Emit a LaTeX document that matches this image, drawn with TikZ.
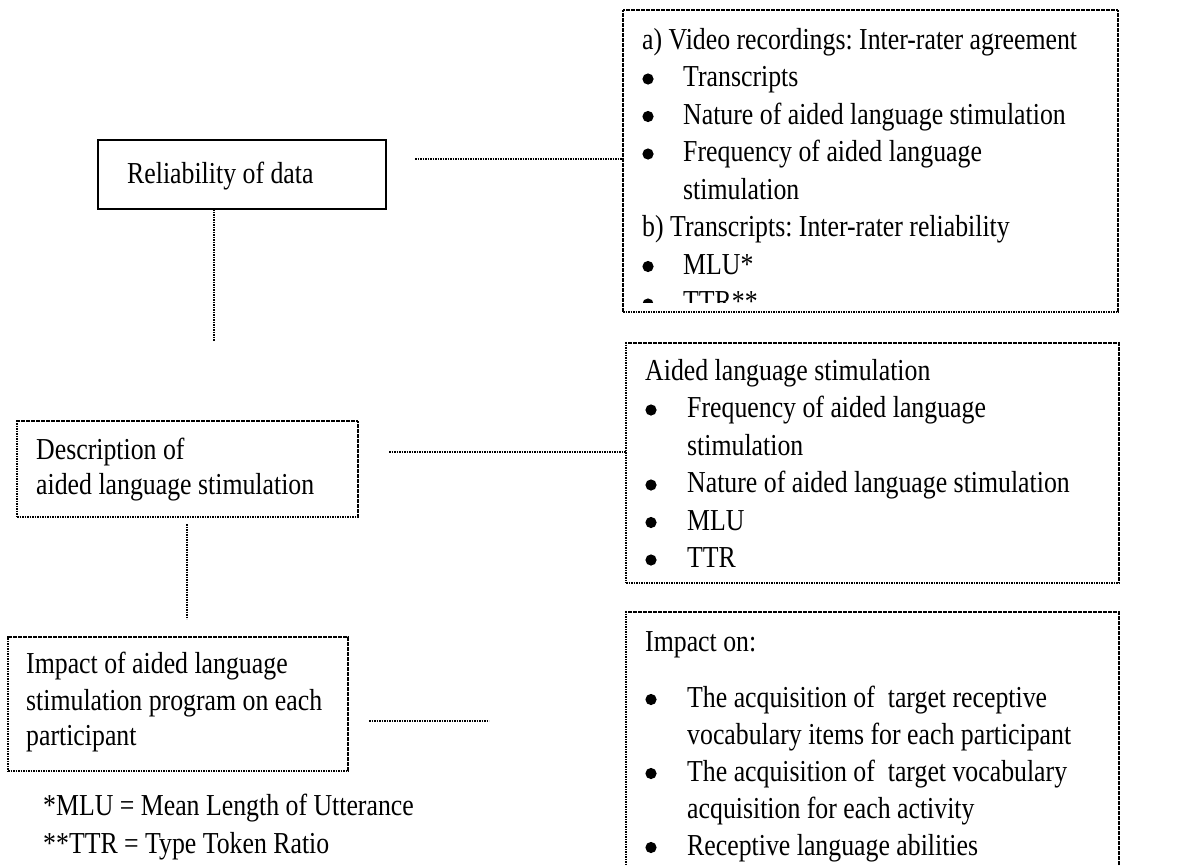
\documentclass[tikz,border=0pt]{standalone}
\usepackage{fontspec}
\usepackage{graphicx}
\setmainfont{Liberation Serif}
\frenchspacing
\newcommand\T[1]{\scalebox{1}[1.18]{#1}}
\begin{document}
\begin{tikzpicture}[x=1pt,y=-1pt,
  dotbox/.style={draw, line width=1.5pt, dash pattern=on 1.8pt off 0.7pt, inner sep=0pt, outer sep=0pt, anchor=north west},
  solidbox/.style={draw, line width=2pt, inner sep=0pt, outer sep=0pt, anchor=north west},
  conn/.style={line width=1.5pt, dash pattern=on 1.8pt off 0.7pt},
  txt/.style={anchor=base west, inner sep=0pt, font=\fontsize{25.8}{37.5}\selectfont},
  bullet/.style={fill=black}]
\useasboundingbox (0,0) rectangle (1191,865);
\clip (0,0) rectangle (1191,865);

% boxes
\node[solidbox, minimum width=288pt, minimum height=69pt] (R) at (98,140) {};
\node[dotbox, minimum width=495pt, minimum height=302pt] (A) at (623,10) {};
\node[dotbox, minimum width=341pt, minimum height=96pt] (D) at (17,421) {};
\node[dotbox, minimum width=493pt, minimum height=240pt] (B) at (626,343) {};
\node[dotbox, minimum width=340pt, minimum height=134pt] (I) at (8,637) {};
\node[dotbox, minimum width=493pt, minimum height=300pt] (C) at (626,612) {};

% left texts
\node[txt] (rt) at (127,183) {\T{Reliability of data}};
\node[txt] (d1) at (36,459) {\T{Description of}};
\node[txt] (d2) at (36,494) {\T{aided language stimulation}};
\node[txt] (i1) at (26,673) {\T{Impact of aided language}};
\node[txt] (i2) at (26,710) {\T{stimulation program on each}};
\node[txt] (i3) at (26,745) {\T{participant}};
\node[txt] (f1) at (43,815) {\T{*MLU = Mean Length of Utterance}};
\node[txt] (f2) at (43,853) {\T{**TTR = Type Token Ratio}};

% box A texts (clipped at the text frame)
\begin{scope}
\clip (623,10) rectangle (1118,302);
\node[txt] (a1) at (642,49) {\T{a) Video recordings: Inter-rater agreement}};
\node[txt] (a2) at (683,86.5) {\T{Transcripts}};
\node[txt] (a3) at (683,124) {\T{Nature of aided language stimulation}};
\node[txt] (a4) at (683,161.5) {\T{Frequency of aided language}};
\node[txt] (a5) at (683,199) {\T{stimulation}};
\node[txt] (a6) at (642,236.5) {\T{b) Transcripts: Inter-rater reliability}};
\node[txt] (a7) at (683,274) {\T{MLU*}};
\node[txt] (a8) at (683,311.5) {\T{TTR**}};
\foreach \y in {86.5,124,161.5,274,311.5}
  \fill[bullet] (648,\y-7.5) circle (5.6);
\end{scope}

% box B texts
\node[txt] (b1) at (645,380) {\T{Aided language stimulation}};
\node[txt] (b2) at (687,417.5) {\T{Frequency of aided language}};
\node[txt] (b3) at (687,455) {\T{stimulation}};
\node[txt] (b4) at (687,492.5) {\T{Nature of aided language stimulation}};
\node[txt] (b5) at (687,530) {\T{MLU}};
\node[txt] (b6) at (687,567.5) {\T{TTR}};
\foreach \y in {417.5,492.5,530,567.5}
  \fill[bullet] (651,\y-7.5) circle (5.6);

% box C texts
\node[txt] (c1t) at (645,651) {\T{Impact on:}};
\node[txt] (c2t) at (687,707) {\T{The acquisition of\ \ target receptive}};
\node[txt] (c3t) at (687,744) {\T{vocabulary items for each participant}};
\node[txt] (c4t) at (687,781) {\T{The acquisition of\ \ target vocabulary}};
\node[txt] (c5t) at (687,818) {\T{acquisition for each activity}};
\node[txt] (c6t) at (687,855) {\T{Receptive language abilities}};
\foreach \y in {707,781,855}
  \fill[bullet] (651,\y-7.5) circle (5.6);

% connectors
\coordinate (k1) at (415,159);
\coordinate (k2) at (214,341);
\coordinate (k3) at (389,452);
\coordinate (k4) at (187,524);
\coordinate (k5) at (187,619);
\coordinate (k6) at (369,721);
\coordinate (k7) at (489,721);
\draw[conn] (k1) -- (k1 -| A.west);
\draw[conn] (k2 |- R.south) -- (k2);
\draw[conn] (k3) -- (k3 -| B.west);
\draw[conn] (k4) -- (k5);
\draw[conn] (k6) -- (k7);
\end{tikzpicture}
\end{document}
